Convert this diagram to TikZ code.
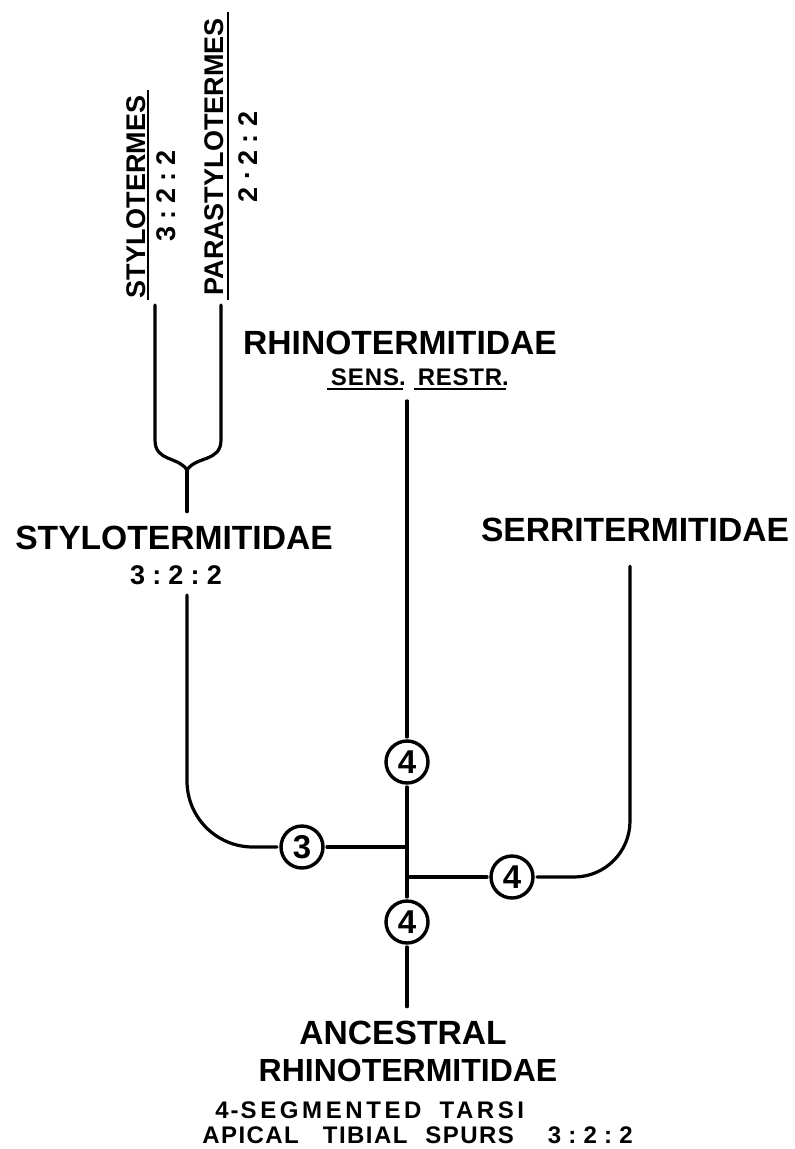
\documentclass[tikz,border=0pt]{standalone}
\usepackage{fontspec}
\setmainfont{Liberation Sans}
\usepackage{tikz}
\usetikzlibrary{calc, positioning}

\newcommand{\nhanlon}{\fontsize{16.8}{19}\selectfont\bfseries}
\newcommand{\nhanvua}{\fontsize{13.5}{16}\selectfont\bfseries}
\newcommand{\nhannho}{\fontsize{12}{14}\selectfont\bfseries}
\newcommand{\tyle}[3]{#1\hspace{3.6pt}:\hspace{3.6pt}#2\hspace{3.6pt}:\hspace{3.6pt}#3}

\begin{document}
\begin{tikzpicture}[x=0.5pt, y=-0.5pt,
    nhanh/.style={line width=1.6pt, line cap=round},
    gach/.style={line width=1.3pt},
    vong/.style={circle, draw, line width=1.7pt, minimum size=21pt,
                 inner sep=0pt, outer sep=2pt, font=\fontsize{16.5}{16.5}\selectfont\bfseries},
    ten/.style={font=\nhanlon, inner sep=2pt},
    doc/.style={rotate=90, font=\nhanvua, inner sep=1.5pt}]
    \useasboundingbox (0,0) rectangle (794,1149);

    % Hai chi ở trên cùng
    \node[doc] (stt) at (136,197) {STYLOTERMES};
    \node[doc] (stt-tl) at (166,196) {\tyle322};
    \node[doc] (pst) at (214,157) {PARASTYLOTERMES};
    \node[doc] (pst-tl) at (248,157)
       {2\hspace{3.6pt}\raisebox{0.55ex}{.}\hspace{3.6pt}2\hspace{3.6pt}:\hspace{3.6pt}2};
    \draw[gach] (148,90) -- (148,300);
    \draw[gach] (228,12) -- (228,300);

    % Các họ
    \node[ten] (sty) at (174,538) {STYLOTERMITIDAE};
    \node[font=\nhanvua, inner sep=2pt] (sty-tl) at (176,575) {\tyle322};
    \node[ten] (rhi) at (400,343) {RHINOTERMITIDAE};
    \node[font=\nhannho, inner sep=1.5pt] (sens) at (365,377)
       {\addfontfeature{LetterSpace=4}SENS\rlap{.}};
    \node[font=\nhannho, inner sep=1.5pt] (restr) at (460,377)
       {\addfontfeature{LetterSpace=3}RESTR\rlap{.}};
    \draw[gach] (sens.south west) -- (sens.south east);
    \draw[gach] (restr.south west) -- (restr.south east);
    \node[ten] (ser) at (635,530) {SERRITERMITIDAE};

    % Tổ tiên
    \node[ten] (anc) at (403,1033) {ANCESTRAL};
    \node[ten, font=\fontsize{16}{19}\selectfont\bfseries] (anc2) at (408,1070) {RHINOTERMITIDAE};
    \node[font=\nhannho, inner sep=0pt, anchor=west] (tarsi) at (215,1110)
       {\addfontfeature{LetterSpace=15}4\hspace{1pt}-\hspace{1pt}SEGMENTED\hspace{9pt}TARSI};
    \node[font=\nhannho, inner sep=0pt, anchor=west] (spurs) at (202,1135)
       {\addfontfeature{LetterSpace=6}APICAL\hspace{12pt}TIBIAL\hspace{9pt}SPURS\hspace{17pt}\tyle322};

    % Số đốt bàn chân
    \node[vong] (c3) at (302,847) {3};
    \node[vong] (c4a) at (407,762) {4};
    \node[vong] (c4b) at (407,922) {4};
    \node[vong] (c4r) at (512,877) {4};

    % Nhánh chẻ đôi
    \coordinate (trai) at (155,305);
    \coordinate (phai) at (221,305);
    \coordinate (nhap) at (187,470);
    \draw[nhanh] (trai) -- (155,440) .. controls (155,462) and (178,456) .. (nhap);
    \draw[nhanh] (phai) -- (221,440) .. controls (221,462) and (196,456) .. (nhap);
    \draw[nhanh] (nhap) -- ([yshift=5pt]nhap |- sty.north);

    % Thân chính
    \draw[nhanh] ([yshift=-6pt]c4a |- sens.south) -- (c4a);
    \draw[nhanh] (c4a) -- (c4b);
    \draw[nhanh] (c4b) -- ([yshift=5pt]c4b |- anc.north);
    \draw[nhanh] (c3.east) -- (c4a |- c3);
    \draw[nhanh] (c4a |- c4r) -- (c4r.west);
    \draw[nhanh, rounded corners=33pt] (c3.west) -| ([yshift=-3pt]nhap |- sty-tl.south);
    \draw[nhanh, rounded corners=28pt] (c4r.east) -| ([xshift=-2.5pt, yshift=-10pt]ser.south);
\end{tikzpicture}
\end{document}
